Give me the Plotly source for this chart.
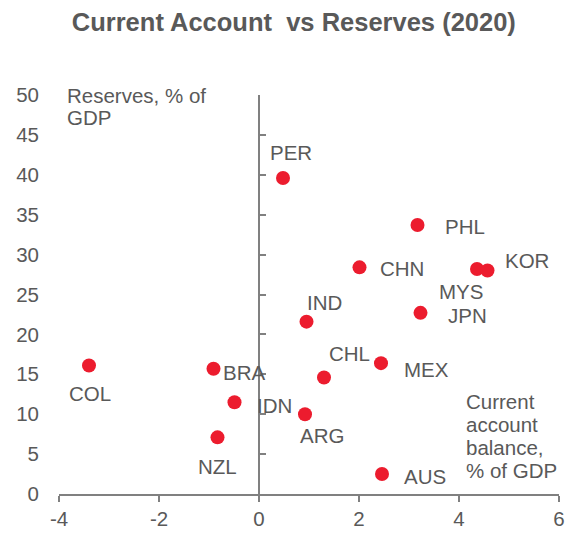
import plotly.graph_objects as go

countries = ["PER", "PHL", "CHN", "MYS", "KOR", "IND", "JPN", "CHL", "MEX",
             "COL", "BRA", "IDN", "ARG", "NZL", "AUS"]
current_account = [0.48, 3.17, 2.01, 4.36, 4.57, 0.95, 3.23, 1.30, 2.44,
                   -3.40, -0.91, -0.49, 0.92, -0.83, 2.46]
reserves = [39.6, 33.7, 28.4, 28.2, 28.0, 21.6, 22.7, 14.6, 16.4,
            16.1, 15.7, 11.5, 10.0, 7.1, 2.5]
x_ticks = [-4, -2, 0, 2, 4, 6]
x_tick_labels = ["-4", "-2", "0", "2", "4", "6"]
y_ticks = [0, 5, 10, 15, 20, 25, 30, 35, 40, 45, 50]
y_title_lines = ["Reserves, % of", "GDP"]
x_title_lines = ["Current", "account", "balance,", "% of GDP"]

# label offsets in pixels (x, y-up)
label_offsets = {
    "PER": (8, 25), "PHL": (47, -1), "CHN": (42, -1), "MYS": (-16, -23),
    "KOR": (39, 10), "IND": (18, 19), "JPN": (47, -3), "CHL": (25, 24),
    "MEX": (45, -6), "COL": (1, -28), "BRA": (30, -4), "IDN": (40, -3),
    "ARG": (17, -21), "NZL": (0, -29), "AUS": (43, -2),
}

GREY = "#595959"
AXIS = "#808080"
RED = "#EC1C2E"
FONT = "Liberation Sans, Arial, sans-serif"
FS = 20.5
LINE_STEP = 0.0565  # paper units between text lines (~22.6 px)

fig = go.Figure()
fig.add_trace(go.Scatter(
    x=current_account, y=reserves, mode="markers",
    marker=dict(size=14, color=RED),
    hoverinfo="text", text=countries, showlegend=False,
))
# invisible trace to anchor the vertical axis at x=0
fig.add_trace(go.Scatter(x=[0], y=[0], yaxis="y2", mode="markers",
                         marker=dict(opacity=0), showlegend=False,
                         hoverinfo="skip"))

for c, x, y in zip(countries, current_account, reserves):
    dx, dy = label_offsets[c]
    fig.add_annotation(x=x, y=y, text=c, showarrow=False,
                       xshift=dx, yshift=dy,
                       font=dict(size=FS, color=GREY, family=FONT))

for i, line in enumerate(y_title_lines):
    fig.add_annotation(xref="paper", yref="paper", x=0.012,
                       y=0.9975 - i * 0.055,
                       xanchor="left", yanchor="middle",
                       text=line, showarrow=False,
                       font=dict(size=FS, color=GREY, family=FONT))
for i, line in enumerate(x_title_lines):
    fig.add_annotation(xref="paper", yref="paper", x=0.809,
                       y=0.2325 - i * 0.0575,
                       xanchor="left", yanchor="middle",
                       text=line, showarrow=False,
                       font=dict(size=FS, color=GREY, family=FONT))

fig.update_layout(
    width=566, height=527,
    margin=dict(l=51, r=15, t=87, b=41, autoexpand=False),
    paper_bgcolor="white", plot_bgcolor="white",
    font=dict(family=FONT, color=GREY, size=FS),
    title=dict(text="<b>Current Account \u00a0vs Reserves (2020)</b>",
               x=0.505, xref="container", xanchor="center",
               y=0.974, yanchor="middle", automargin=False,
               font=dict(size=25.5, color=GREY, family=FONT)),
    xaxis=dict(range=[-4, 6], tickvals=x_ticks, ticktext=x_tick_labels,
               showgrid=False, zeroline=False, automargin=False,
               showline=True, linecolor=AXIS, linewidth=1.5,
               ticks="outside", ticklen=6, tickcolor=AXIS, tickwidth=1.5,
               tickfont=dict(size=FS, color=GREY)),
    yaxis=dict(range=[0, 50], tickvals=y_ticks, showgrid=False, zeroline=False,
               showline=False, ticks="", ticklabelstandoff=19, automargin=False,
               tickfont=dict(size=FS, color=GREY)),
    yaxis2=dict(range=[0, 50], tickvals=y_ticks, overlaying="y", anchor="free",
                position=0.4, side="left", showgrid=False, zeroline=False,
                showline=True, linecolor=AXIS, linewidth=1.5, automargin=False,
                ticks="inside", ticklen=6, tickcolor=AXIS, tickwidth=1.5,
                showticklabels=False),
)

fig.write_html("out.html")
